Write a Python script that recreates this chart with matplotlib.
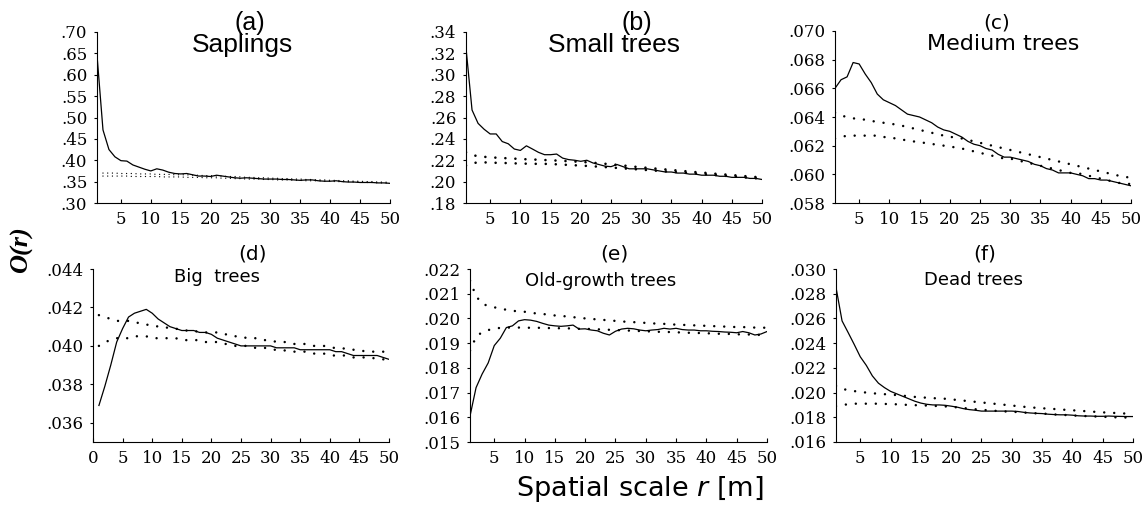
import numpy as np
import matplotlib
matplotlib.use("Agg")
import matplotlib.pyplot as plt
from matplotlib.ticker import FuncFormatter, FixedLocator

r = list(range(1, 51))

# (a) Saplings
a_obs = [.646, .471, .425, .408, .399, .398, .389, .384, .379, .375,
         .380, .377, .372, .369, .368, .369, .366, .363, .363, .362,
         .365, .363, .361, .359, .358, .359, .358, .357, .356, .356,
         .356, .355, .355, .354, .353, .354, .354, .352, .351, .351,
         .352, .350, .349, .349, .348, .348, .348, .347, .347, .346]
a_hi = [np.nan, .370, .370, .370, .369, .369, .369, .368, .368, .368,
        .367, .367, .367, .366, .366, .366, .365, .365, .364, .364,
        .363, .363, .362, .362, .361, .360, .360, .359, .359, .358,
        .358, .357, .357, .356, .356, .355, .355, .354, .354, .353,
        .353, .352, .352, .351, .351, .350, .350, .349, .349, .348]
a_lo = [np.nan, .363, .363, .363, .363, .363, .362, .362, .362, .362,
        .362, .361, .361, .361, .361, .360, .360, .360, .359, .359,
        .359, .358, .358, .357, .357, .356, .356, .356, .355, .355,
        .354, .354, .354, .353, .353, .352, .352, .352, .351, .351,
        .350, .350, .350, .349, .349, .348, .348, .347, .347, .346]

# (b) Small trees
b_obs = [.325, .267, .2545, .249, .2446, .2446, .2375, .2354, .2305, .2292,
         .2335, .2305, .2274, .2252, .2252, .2258, .222, .2206, .220, .219,
         .220, .2175, .216, .2145, .214, .216, .214, .212, .212, .212,
         .212, .211, .210, .209, .209, .208, .208, .207, .207, .206,
         .206, .206, .205, .205, .204, .204, .204, .203, .203, .202]
b_hi = [.2274, .2250, .2237, .2232, .2228, .2224, .2221, .2218, .2215, .2212,
        .2209, .2207, .2205, .2202, .2200, .2197, .2194, .2191, .2188, .2185,
        .2181, .2177, .2172, .2167, .2162, .2157, .2151, .2145, .2139, .2134,
        .2129, .2124, .2119, .2114, .2109, .2104, .2099, .2094, .2089, .2085,
        .2080, .2075, .2070, .2066, .2061, .2057, .2052, .2048, .2043, .2039]
b_lo = [.2151, .2172, .2180, .2180, .2178, .2176, .2175, .2173, .2171, .2169,
        .2168, .2167, .2166, .2166, .2165, .2162, .2159, .2156, .2153, .2150,
        .2147, .2143, .2140, .2136, .2132, .2128, .2124, .2120, .2116, .2112,
        .2108, .2104, .2100, .2096, .2092, .2088, .2084, .2080, .2076, .2072,
        .2067, .2063, .2058, .2054, .2049, .2045, .2040, .2036, .2031, .2027]

# (c) Medium trees
c_obs = [.0660, .0666, .0668, .0678, .0677, .0670, .0664, .0656, .0652, .0650,
         .0648, .0645, .0642, .0641, .0640, .0638, .0636, .0633, .0631, .0630,
         .0628, .0626, .0623, .0621, .0620, .0618, .0617, .0614, .0612, .0612,
         .0611, .0610, .0609, .0607, .0606, .0604, .0603, .0601, .0601, .0601,
         .0600, .0599, .0597, .0597, .0596, .0596, .0595, .0594, .0593, .0592]
c_hi = [.0643, .0641, .0640, .0639, .0639, .0638, .0637, .0637, .0636, .0635,
        .0635, .0634, .0633, .0632, .0631, .0630, .0629, .0628, .0627, .0626,
        .0626, .0625, .0624, .0623, .0622, .0621, .0620, .0619, .0618, .0617,
        .0616, .0615, .0614, .0613, .0612, .0611, .0610, .0609, .0608, .0607,
        .0606, .0605, .0604, .0603, .0602, .0601, .0600, .0599, .0598, .0598]
c_lo = [.0625, .0626, .0627, .0627, .0627, .0627, .0627, .0627, .0626, .0626,
        .0625, .0624, .0624, .0623, .0622, .0622, .0621, .0621, .0620, .0619,
        .0619, .0618, .0617, .0616, .0615, .0614, .0613, .0612, .0611, .0611,
        .0610, .0609, .0608, .0607, .0606, .0605, .0604, .0603, .0602, .0601,
        .0601, .0600, .0599, .0598, .0597, .0596, .0595, .0594, .0594, .0593]

# (d) Big trees
d_obs = [.0369, .0379, .0390, .0402, .0409, .0415, .0417, .0418, .0419, .0417,
         .0414, .0412, .0410, .0409, .0408, .0408, .0408, .0407, .0407, .0406,
         .0404, .0403, .0402, .0401, .0400, .0400, .0400, .0400, .0400, .0400,
         .0399, .0399, .0399, .0399, .0398, .0398, .0398, .0398, .0398, .0398,
         .0397, .0397, .0396, .0395, .0395, .0395, .0395, .0395, .0394, .0393]
d_hi = [.0416, .0415, .0414, .0413, .0413, .0413, .0412, .0412, .0411, .0411,
        .0410, .0410, .0409, .0409, .0408, .0408, .0408, .0407, .0407, .0407,
        .0407, .0406, .0406, .0405, .0405, .0404, .0404, .0404, .0403, .0403,
        .0402, .0402, .0402, .0401, .0401, .0401, .0400, .0400, .0400, .0399,
        .0399, .0399, .0398, .0398, .0398, .0397, .0397, .0397, .0397, .0396]
d_lo = [.0400, .0402, .0403, .0404, .0404, .0404, .0405, .0405, .0405, .0404,
        .0404, .0404, .0404, .0404, .0403, .0403, .0403, .0403, .0402, .0402,
        .0402, .0401, .0401, .0400, .0400, .0400, .0399, .0399, .0399, .0398,
        .0398, .0398, .0397, .0397, .0397, .0397, .0396, .0396, .0396, .0395,
        .0395, .0395, .0395, .0394, .0394, .0394, .0394, .0393, .0393, .0393]

# (e) Old-growth trees
e_obs = [.01605, .01720, .01775, .01820, .01890, .01920, .01963, .01970, .01990, .01995,
         .01993, .01988, .01980, .01973, .01970, .01968, .01970, .01973, .01957, .01958,
         .01953, .01950, .01940, .01933, .01948, .01957, .01960, .01958, .01953, .01950,
         .01953, .01955, .01960, .01957, .01960, .01955, .01953, .01953, .01950, .01950,
         .01948, .01947, .01945, .01944, .01942, .01947, .01942, .01933, .01937, .01947]
e_hi = [.02153, .02090, .02060, .02050, .02045, .02040, .02035, .02030, .02030, .02027,
        .02023, .02020, .02018, .02015, .02012, .02010, .02008, .02005, .02003, .02000,
        .01998, .01996, .01994, .01992, .01990, .01988, .01986, .01985, .01983, .01982,
        .01980, .01979, .01978, .01976, .01975, .01974, .01973, .01972, .01971, .01970,
        .01969, .01968, .01967, .01966, .01965, .01965, .01964, .01963, .01963, .01962]
e_lo = [.01870, .01925, .01945, .01953, .01958, .01962, .01963, .01963, .01963, .01963,
        .01962, .01962, .01962, .01961, .01961, .01960, .01960, .01959, .01958, .01958,
        .01957, .01956, .01955, .01954, .01953, .01952, .01951, .01950, .01949, .01948,
        .01947, .01946, .01945, .01945, .01944, .01943, .01942, .01941, .01941, .01940,
        .01939, .01938, .01938, .01937, .01936, .01935, .01935, .01934, .01933, .01933]

# (f) Dead trees
f_obs = [.02851, .02580, .02486, .02390, .02290, .02220, .02135, .02076, .02040, .02010,
         .01990, .01970, .01950, .01930, .01915, .01905, .01900, .01900, .01897, .01890,
         .01882, .01870, .01862, .01857, .01850, .01850, .01850, .01850, .01850, .01850,
         .01847, .01840, .01835, .01832, .01830, .01825, .01822, .01820, .01820, .01817,
         .01812, .01810, .01810, .01808, .01808, .01810, .01808, .01807, .01806, .01806]
f_hi = [.02054, .02030, .02020, .02012, .02005, .02000, .01995, .01990, .01987, .01983,
        .01980, .01975, .01970, .01965, .01962, .01958, .01955, .01952, .01950, .01945,
        .01940, .01935, .01930, .01925, .01920, .01915, .01910, .01905, .01900, .01895,
        .01890, .01885, .01880, .01877, .01873, .01870, .01867, .01863, .01860, .01857,
        .01853, .01850, .01847, .01843, .01840, .01837, .01835, .01832, .01830, .01828]
f_lo = [.01890, .01900, .01905, .01910, .01910, .01910, .01910, .01910, .01908, .01907,
        .01905, .01902, .01900, .01898, .01897, .01895, .01893, .01890, .01888, .01885,
        .01880, .01875, .01870, .01865, .01860, .01857, .01853, .01850, .01847, .01845,
        .01842, .01838, .01835, .01832, .01830, .01827, .01823, .01820, .01818, .01815,
        .01812, .01810, .01808, .01806, .01804, .01802, .01800, .01799, .01798, .01797]

letters = ["(a)", "(b)", "(c)", "(d)", "(e)", "(f)"]
names = ["Saplings", "Small trees", "Medium trees", "Big  trees", "Old-growth trees", "Dead trees"]

W, H = 1146, 505
fig = plt.figure(figsize=(W / 100, H / 100), dpi=100)


def px_axes(left, right, top, bottom):
    return fig.add_axes([left / W, 1 - bottom / H, (right - left) / W, (bottom - top) / H])


panels = [
    dict(box=(97, 390, 32, 203), obs=a_obs, hi=a_hi, lo=a_lo, ylim=(.30, .70), yt=[.30, .35, .40, .45, .50, .55, .60, .65, .70],
         dec=2, xlim=(1, 50), xt=[5, 10, 15, 20, 25, 30, 35, 40, 45, 50], env_lw=1.0, env_gap=3.4,
         lab=(250, 23), nam=(242, 45), font="Liberation Sans", lsize=18, nsize=19),
    dict(box=(466, 762, 32, 203), obs=b_obs, hi=b_hi, lo=b_lo, ylim=(.18, .34), yt=[.18, .20, .22, .24, .26, .28, .30, .32, .34],
         dec=2, xlim=(1, 50), xt=[5, 10, 15, 20, 25, 30, 35, 40, 45, 50], env_lw=1.9, env_gap=3.8,
         lab=(637, 23), nam=(614, 45), font="Liberation Sans", lsize=18, nsize=19),
    dict(box=(835, 1131, 31, 203), obs=c_obs, hi=c_hi, lo=c_lo, ylim=(.058, .070), yt=[.058, .060, .062, .064, .066, .068, .070],
         dec=3, xlim=(1, 50), xt=[5, 10, 15, 20, 25, 30, 35, 40, 45, 50], env_lw=1.8, env_gap=4.0,
         lab=(997, 23), nam=(1003, 44), font="DejaVu Sans", lsize=14.5, nsize=16),
    dict(box=(93, 389, 269, 442), obs=d_obs, hi=d_hi, lo=d_lo, ylim=(.035, .044), yt=[.036, .038, .040, .042, .044],
         dec=3, xlim=(0, 50), xt=[0, 5, 10, 15, 20, 25, 30, 35, 40, 45, 50], env_lw=1.8, env_gap=4.0,
         lab=(252, 254), nam=(217, 277), font="DejaVu Sans", lsize=14.5, nsize=13),
    dict(box=(470, 767, 269, 442), obs=e_obs, hi=e_hi, lo=e_lo, ylim=(.015, .022), yt=[.015, .016, .017, .018, .019, .020, .021, .022],
         dec=3, xlim=(1, 50), xt=[5, 10, 15, 20, 25, 30, 35, 40, 45, 50], env_lw=1.8, env_gap=4.0,
         lab=(614, 254), nam=(601, 281), font="DejaVu Sans", lsize=14.5, nsize=13),
    dict(box=(836, 1133, 269, 442), obs=f_obs, hi=f_hi, lo=f_lo, ylim=(.016, .030), yt=[.016, .018, .020, .022, .024, .026, .028, .030],
         dec=3, xlim=(1, 50), xt=[5, 10, 15, 20, 25, 30, 35, 40, 45, 50], env_lw=1.8, env_gap=4.0,
         lab=(985, 254), nam=(973, 280), font="DejaVu Sans", lsize=14.5, nsize=13),
]

for i, p in enumerate(panels):
    ax = px_axes(*p["box"])
    ax.plot(r, p["obs"], color="black", lw=0.9, solid_joinstyle="round")
    for env in (p["hi"], p["lo"]):
        ax.plot(r, env, color="black", lw=p["env_lw"], linestyle=(0, (0.001, p["env_gap"])),
                dash_capstyle="round")
    ax.set_xlim(*p["xlim"])
    ax.set_ylim(*p["ylim"])
    ax.xaxis.set_major_locator(FixedLocator(p["xt"]))
    ax.yaxis.set_major_locator(FixedLocator(p["yt"]))
    dec = p["dec"]
    ax.yaxis.set_major_formatter(FuncFormatter(lambda v, pos, d=dec: f"{v:.{d}f}".lstrip("0")))
    ax.xaxis.set_major_formatter(FuncFormatter(lambda v, pos: f"{int(round(v))}"))
    for s in ("top", "right"):
        ax.spines[s].set_visible(False)
    for s in ("left", "bottom"):
        ax.spines[s].set_linewidth(0.8)
    ax.tick_params(axis="x", direction="in", length=3, width=0.8, pad=5.5)
    ax.tick_params(axis="y", direction="out", length=2.5, width=0.8, pad=4.5)
    for lbl in ax.get_xticklabels() + ax.get_yticklabels():
        lbl.set_fontfamily("DejaVu Serif")
        lbl.set_fontsize(12)
    ax.patch.set_alpha(0)
    fig.text(p["lab"][0] / W, 1 - p["lab"][1] / H, letters[i], ha="center", va="center",
             family=p["font"], fontsize=p["lsize"])
    fig.text(p["nam"][0] / W, 1 - p["nam"][1] / H, names[i], ha="center", va="center",
             family=p["font"], fontsize=p["nsize"])

fig.text(22 / W, 1 - 250 / H, "O(r)", rotation=90, ha="center", va="center",
         family="Liberation Serif", style="italic", weight="bold", fontsize=19)
fig.text(640 / W, 1 - 489 / H, r"Spatial scale $\mathit{r}$ [m]", ha="center", va="center",
         family="DejaVu Sans", fontsize=19.5)

fig.savefig("out.png", dpi=100)
